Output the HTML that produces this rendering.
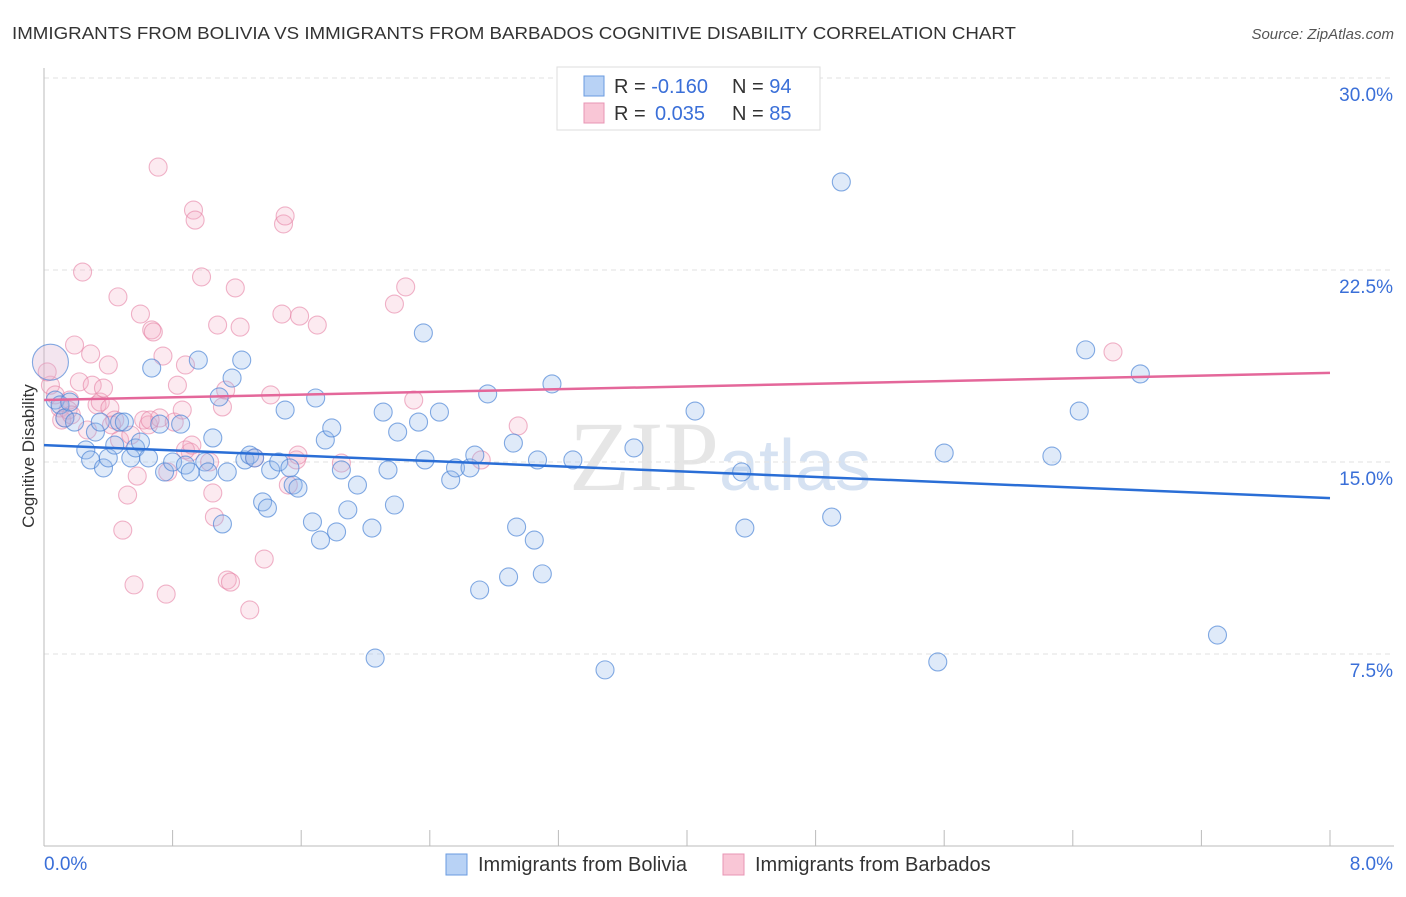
<!DOCTYPE html>
<html><head><meta charset="utf-8"><style>
body{margin:0;background:#fff;font-family:"Liberation Sans",sans-serif;}
</style></head><body>
<svg id="chart" width="1406" height="892" xmlns="http://www.w3.org/2000/svg" style="font-family:'Liberation Sans',sans-serif">
<text x="12" y="39" font-size="17.5" fill="#333" textLength="1004" lengthAdjust="spacingAndGlyphs">IMMIGRANTS FROM BOLIVIA VS IMMIGRANTS FROM BARBADOS COGNITIVE DISABILITY CORRELATION CHART</text>
<text x="1394" y="39" font-size="15" fill="#555" text-anchor="end" font-style="italic">Source: ZipAtlas.com</text>
<text x="720" y="490" font-size="100" fill="#e6e6e6" text-anchor="middle" font-family="Liberation Serif,serif">ZIP<tspan font-family="Liberation Sans,sans-serif" font-size="72" fill="#d6e2f2">atlas</tspan></text>
<g id="grid"></g><g id="axes"></g><g id="pts"></g><g id="trends"></g>
<text transform="translate(34,456) rotate(-90)" font-size="17" fill="#333" text-anchor="middle">Cognitive Disability</text>
<g>
<rect x="557" y="67" width="263" height="63" fill="#fff" stroke="#ddd"/>
<rect x="584" y="76" width="20" height="20" fill="#b8d2f5" stroke="#6a9be0"/>
<rect x="584" y="103" width="20" height="20" fill="#f9c6d6" stroke="#e895b4"/>
<text x="614" y="93" font-size="20" fill="#333">R = <tspan fill="#3a6fd8">-0.160</tspan><tspan x="732">N = </tspan><tspan fill="#3a6fd8">94</tspan></text>
<text x="614" y="120" font-size="20" fill="#333">R = <tspan fill="#3a6fd8" x="655">0.035</tspan><tspan x="732">N = </tspan><tspan fill="#3a6fd8">85</tspan></text>
</g>
<g>
<rect x="446" y="854" width="21" height="21" fill="#b8d2f5" stroke="#6a9be0"/>
<text x="478" y="871" font-size="20" fill="#333">Immigrants from Bolivia</text>
<rect x="723" y="854" width="21" height="21" fill="#f9c6d6" stroke="#e895b4"/>
<text x="755" y="871" font-size="20" fill="#333">Immigrants from Barbados</text>
</g>
</svg>
<script>
const xTicks=[0,0.8,1.6,2.4,3.2,4.0,4.8,5.6,6.4,7.2,8.0];
const yTicks=[7.5,15,22.5,30];
const yTickLabels=["7.5%","15.0%","22.5%","30.0%"];
const xEndLabels=["0.0%","8.0%"];
const blueX=[.04,.07,.10,.13,.16,.19,.26,.29,.32,.35,.37,.40,.44,.47,.50,.54,.57,.60,.65,.67,.72,.75,.80,.85,.88,.91,.96,1.00,1.02,1.05,1.09,1.11,1.14,1.17,1.23,1.25,1.28,1.31,1.36,1.39,1.41,1.46,1.50,1.53,1.55,1.58,1.67,1.69,1.72,1.75,1.79,1.82,1.85,1.89,1.95,2.04,2.06,2.11,2.14,2.18,2.20,2.33,2.36,2.37,2.46,2.53,2.56,2.65,2.68,2.71,2.76,2.89,2.92,2.94,3.05,3.07,3.10,3.16,3.29,3.49,3.67,4.05,4.34,4.36,4.90,4.96,5.56,5.60,6.27,6.44,6.48,6.82,7.30];
const blueY=[18.9,17.42,17.23,16.72,17.34,16.56,15.47,15.08,16.17,16.56,14.77,15.16,15.66,16.56,16.56,15.16,15.55,15.78,15.16,18.67,16.48,14.61,15.0,16.48,14.88,14.61,18.98,15.0,14.61,15.94,17.54,12.58,14.61,18.28,18.98,15.08,15.27,15.16,13.44,13.2,14.69,15.0,17.03,14.77,14.1,13.98,12.66,17.5,11.95,15.86,16.33,12.27,14.69,13.13,14.1,12.42,7.34,16.95,14.69,13.32,16.17,16.56,20.04,15.08,16.95,14.3,14.77,14.77,15.27,10.0,17.66,10.51,15.74,12.46,11.95,15.08,10.63,18.05,15.08,6.88,15.55,16.99,14.61,12.42,12.85,25.94,7.19,15.35,15.23,16.99,19.38,18.44,8.24];
const pinkX=[.04,.07,.10,.13,.16,.19,.22,.24,.27,.29,.30,.33,.35,.37,.40,.42,.46,.47,.49,.52,.54,.56,.58,.60,.62,.65,.67,.68,.71,.72,.74,.76,.77,.81,.83,.86,.88,.91,.93,.94,.98,1.03,1.05,1.06,1.08,1.11,1.13,1.14,1.16,1.19,1.22,1.28,1.37,1.41,1.48,1.49,1.50,1.52,1.57,1.59,1.70,1.85,2.18,2.25,2.30,2.72,2.95,6.65,.02,.11,.15,.17,.41,.44,.66,.88,.92,1.31,1.58];
const pinkY=[18.0,17.62,17.11,16.72,17.42,19.57,18.13,22.42,16.25,19.22,18.0,17.23,17.34,17.89,18.79,16.45,21.45,15.86,12.34,13.71,16.05,10.2,14.45,20.78,16.64,16.45,20.16,20.08,26.52,16.72,19.14,9.84,14.61,16.56,18.0,17.03,18.79,15.39,24.84,24.45,22.23,15.0,13.79,12.85,20.35,17.15,17.81,10.39,10.31,21.8,20.27,9.22,11.21,17.62,20.78,24.3,24.61,14.1,15.08,20.7,20.35,14.96,21.17,21.84,17.42,15.08,16.41,19.3,18.52,16.64,17.03,16.84,17.11,16.64,16.64,15.47,15.66,15.16,15.27];
const blueTrend=[15.66,13.59];
const pinkTrend=[17.42,18.48];
const NS="http://www.w3.org/2000/svg";
const sx=v=>44+v*(1286/8), sy=v=>846-v*25.6;
function mk(tag,attrs,parent){const e=document.createElementNS(NS,tag);for(const k in attrs)e.setAttribute(k,attrs[k]);document.getElementById(parent).appendChild(e);return e;}
yTicks.forEach((t,i)=>{
 const l=mk('line',{x1:44,x2:1394,y1:sy(t),y2:sy(t),stroke:'#e2e2e2','stroke-dasharray':'5,4'},'grid');
 
 
 const tx=mk('text',{x:1393,y:sy(t)+23,'font-size':19,fill:'#3a6fd8','text-anchor':'end'},'grid');
 tx.textContent=yTickLabels[i];
 
 
});
const ax=mk('line',{x1:44,x2:44,y1:68,y2:846,stroke:'#bbb'},'axes');


const bx=mk('line',{x1:44,x2:1394,y1:846,y2:846,stroke:'#bbb'},'axes');


xTicks.forEach(t=>{const l=mk('line',{x1:sx(t),x2:sx(t),y1:830,y2:846,stroke:'#bbb'},'axes');
 
 });
[[0,'start',44],[8,'end',1393]].forEach((d,i)=>{const tx=mk('text',{x:d[2],y:870,'font-size':19,fill:'#3a6fd8','text-anchor':d[1]},'axes');tx.textContent=xEndLabels[i];
 
 });
function pts(X,Y,fill,stroke,name){X.forEach((x,i)=>{const big=(i===0&&name==='bolivia-point');const r=big?18:9;
 const c=mk('circle',{cx:sx(x),cy:sy(Y[i]),r:r,fill:big?'rgba(220,180,210,0.35)':fill,stroke:stroke,'stroke-width':1.1},'pts');
 
 });}
pts(pinkX,pinkY,'rgba(245,170,195,0.25)','rgba(230,130,165,0.6)','barbados-point');
pts(blueX,blueY,'rgba(150,185,235,0.3)','rgba(80,135,215,0.7)','bolivia-point');
const bt=mk('line',{x1:sx(0),x2:sx(8),y1:sy(blueTrend[0]),y2:sy(blueTrend[1]),stroke:'#2a6ed6','stroke-width':2.5},'trends');


const pt=mk('line',{x1:sx(0),x2:sx(8),y1:sy(pinkTrend[0]),y2:sy(pinkTrend[1]),stroke:'#e4679a','stroke-width':2.5},'trends');


</script>
</body></html>
